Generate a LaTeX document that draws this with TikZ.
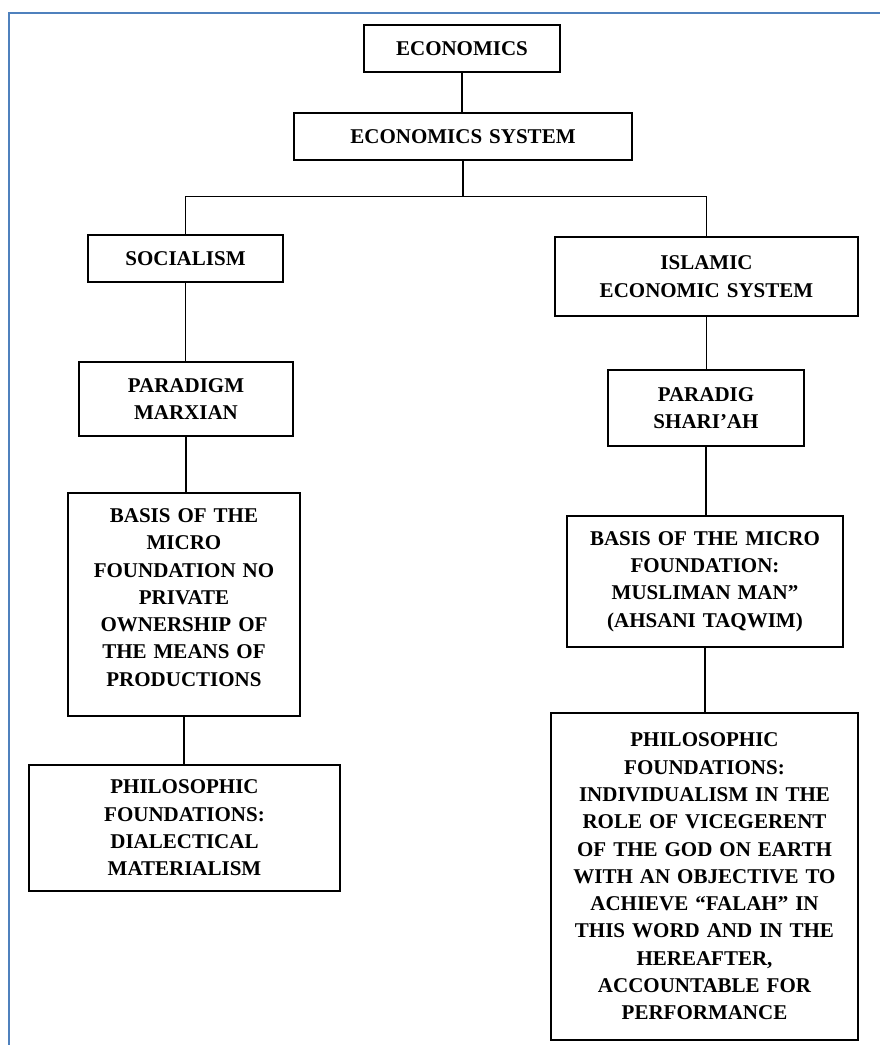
\documentclass[tikz,border=0pt]{standalone}
\usepackage{fontspec}
\setmainfont{Liberation Serif}
\usetikzlibrary{calc,positioning}
\definecolor{frameblue}{RGB}{79,129,189}

\begin{document}
\begin{tikzpicture}[x=1pt, y=-1pt]
\tikzstyle{bx}=[rectangle, draw, line width=1.3pt, align=center,
                inner xsep=0pt, inner ysep=4pt,
                font=\fontsize{21}{27.3}\selectfont\bfseries]
\tikzstyle{ln}=[line width=1.3pt]
\useasboundingbox (0,0) rectangle (880,1045);
% page frame
\draw[frameblue, line width=2pt] (9,1045) |- (880,13);

\node[bx, text width=196pt, minimum height=47pt] (econ) at (462,48.5) {ECONOMICS};
\node[bx, text width=338pt, minimum height=47pt] (econsys) at (463,136.5) {ECONOMICS SYSTEM};
\node[bx, text width=195pt, minimum height=47pt] (soc) at (185.5,258.5) {SOCIALISM};
\node[bx, text width=303pt, minimum height=79pt] (islam) at (706.5,276.5) {ISLAMIC\\ECONOMIC SYSTEM};
\node[bx, text width=214pt, minimum height=74pt] (marx) at (186,399) {PARADIGM\\MARXIAN};
\node[bx, text width=196pt, minimum height=76pt] (shariah) at (706,408) {PARADIG\\SHARI’AH};
\node[bx, text width=232pt, minimum height=223pt] (basisL) at (184,604.5)
  {BASIS OF THE\\MICRO\\FOUNDATION NO\\PRIVATE\\OWNERSHIP OF\\THE MEANS OF\\PRODUCTIONS\\[-13pt]\mbox{}};
\node[bx, text width=276pt, minimum height=131pt] (basisR) at (705,581.5)
  {BASIS OF THE MICRO\\FOUNDATION:\\MUSLIMAN MAN”\\(AHSANI TAQWIM)};
\node[bx, text width=311pt, minimum height=126pt] (philL) at (184.5,828)
  {PHILOSOPHIC\\FOUNDATIONS:\\DIALECTICAL\\MATERIALISM};
\node[bx, text width=307pt, minimum height=327pt] (philR) at (704.5,876.5)
  {PHILOSOPHIC\\FOUNDATIONS:\\INDIVIDUALISM IN THE\\ROLE OF VICEGERENT\\OF THE GOD ON EARTH\\WITH AN OBJECTIVE TO\\ACHIEVE “FALAH” IN\\THIS WORD AND IN THE\\HEREAFTER,\\ACCOUNTABLE FOR\\PERFORMANCE};

% branches
\coordinate (split) at ($(econsys.south)+(0,36)$);
\draw[ln] (econ.south) -- (econ.south |- econsys.north);
\draw[ln] (econsys.south) -- (split);
\draw[ln] (soc.north) |- (split) -| (islam.north);
\foreach \a/\b in {soc/marx,marx/basisL,basisL/philL,islam/shariah,shariah/basisR,basisR/philR}
  {\draw[ln] (\a.south) -- (\a.south |- \b.north);}
\end{tikzpicture}
\end{document}
